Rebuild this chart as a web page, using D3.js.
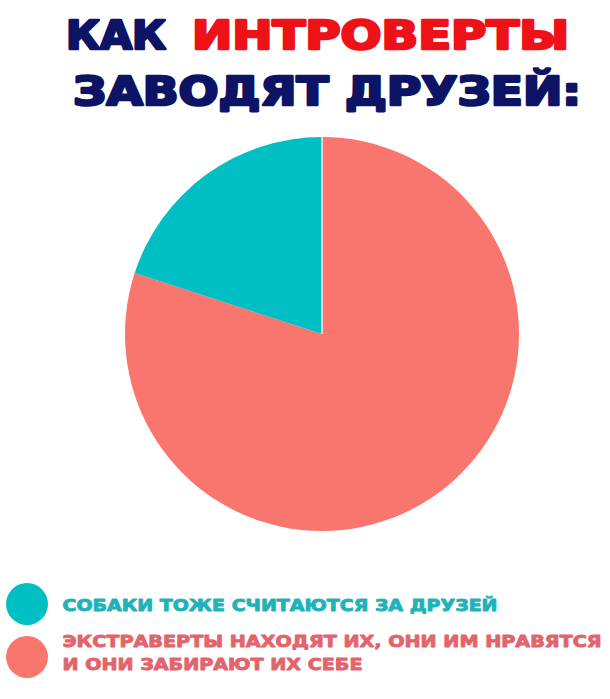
<!DOCTYPE html>
<html><head><meta charset="utf-8">
<script src="https://cdn.jsdelivr.net/npm/d3@7"></script>
<style>html,body{margin:0;padding:0;background:#fff;}svg{display:block;}</style>
</head><body>
<script>
const titleLine1a = "КАК";
const titleLine1b = "ИНТРОВЕРТЫ";
const titleLine2 = "ЗАВОДЯТ ДРУЗЕЙ:";
const categories = ["СОБАКИ ТОЖЕ СЧИТАЮТСЯ ЗА ДРУЗЕЙ", "ЭКСТРАВЕРТЫ НАХОДЯТ ИХ, ОНИ ИМ НРАВЯТСЯ\nИ ОНИ ЗАБИРАЮТ ИХ СЕБЕ"];
const values = [20, 80];
const colors = ["#00BFC4", "#F8766D"];
const textColors = ["#1fb3b9", "#e2646c"];

const W = 610, H = 699;
const svg = d3.select("body").append("svg").attr("width", W).attr("height", H);

const tfont = "'DejaVu Sans', sans-serif";
function title(txt, x, y, len, fill) {
  svg.append("text").attr("x", x + 1).attr("y", y - 1).text(txt)
    .attr("font-family", tfont).attr("font-weight", "bold").attr("font-size", 39)
    .attr("fill", fill).attr("stroke", fill).attr("stroke-width", 2.6).attr("stroke-linejoin", "round")
    .attr("textLength", len - 2).attr("lengthAdjust", "spacingAndGlyphs");
}
title(titleLine1a, 65, 50, 102, "#0d1466");
title(titleLine1b, 191, 50, 379, "#ee1118");
title(titleLine2, 72, 106, 510, "#0d1466");

// Pie
const cx = 322, cy = 334, r = 197;
const data = categories.map((c, i) => ({cat: c, value: values[i], color: colors[i]}));
const pie = d3.pie().value(d => d.value).sort(null);
const arcs = pie(data.slice().reverse());
const arc = d3.arc().innerRadius(0).outerRadius(r);
const g = svg.append("g").attr("transform", `translate(${cx},${cy})`);
g.selectAll("path").data(arcs).join("path")
  .attr("d", arc).attr("fill", d => d.data.color);
// thin white separator along the 12 o'clock edge
g.append("line").attr("x1", 0).attr("y1", 0).attr("x2", 0).attr("y2", -r)
  .attr("stroke", "#fff").attr("stroke-width", 1.2);

// Legend
const lfont = "'DejaVu Sans', sans-serif";
const leg = [
  {cy: 604, lines: [{t: categories[0], y: 611, len: 436}]},
  {cy: 657, lines: [{t: categories[1].split("\n")[0], y: 647, len: 540}, {t: categories[1].split("\n")[1], y: 670, len: 301}]}
];
leg.forEach((L, i) => {
  svg.append("circle").attr("cx", 27).attr("cy", L.cy).attr("r", 21).attr("fill", colors[i]);
  L.lines.forEach(ln => {
    svg.append("text").attr("x", 62.5).attr("y", ln.y).text(ln.t)
      .attr("font-family", lfont).attr("font-weight", "bold").attr("font-size", 16)
      .attr("fill", textColors[i]).attr("stroke", textColors[i]).attr("stroke-width", 0.9).attr("stroke-linejoin", "round")
      .attr("textLength", ln.len - 1).attr("lengthAdjust", "spacingAndGlyphs");
  });
});
</script>
</body></html>
